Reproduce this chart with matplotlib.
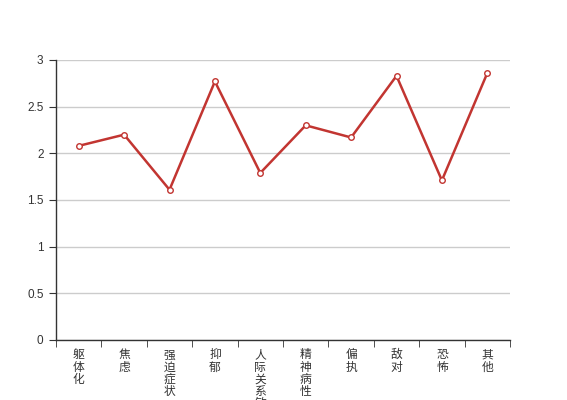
import numpy as np
import matplotlib
matplotlib.use('Agg')
import matplotlib.pyplot as plt

plt.rcParams['font.family'] = ['Noto Sans CJK SC', 'DejaVu Sans']

# 数据
categories = ['躯体化', '焦虑', '强迫症状', '抑郁', '人际关系敏感',
              '精神病性', '偏执', '敌对', '恐怖', '其他']
values = [2.08, 2.20, 1.61, 2.77, 1.79, 2.30, 2.17, 2.83, 1.71, 2.86]
y_ticks = [0, 0.5, 1, 1.5, 2, 2.5, 3]
y_tick_labels = ['0', '0.5', '1', '1.5', '2', '2.5', '3']

fig = plt.figure(figsize=(5.67, 4.0), dpi=100)
ax = fig.add_axes([56 / 567, 0.15, (510 - 56) / 567, 0.70])

x = np.arange(len(categories))
ax.plot(x, values, color='#c23531', linewidth=1.8, marker='o', markersize=4,
        markerfacecolor='white', markeredgecolor='#c23531', markeredgewidth=1,
        zorder=3)

ax.set_xlim(-0.5, len(categories) - 0.5)
ax.set_ylim(0, 3)

# y轴
ax.set_yticks(y_ticks)
ax.set_yticklabels(y_tick_labels, fontsize=8.5, color='#333333',
                   family=['Liberation Sans', 'DejaVu Sans'])
ax.yaxis.grid(True, color='#cccccc', linewidth=1)
ax.set_axisbelow(True)

# x轴：刻度在类别边界，标签竖排在中间
ax.set_xticks(x)
ax.set_xticklabels(['\n'.join(c) for c in categories], fontsize=8.5,
                   color='#333333', linespacing=0.92, va='top')
ax.tick_params(axis='x', which='major', length=0, pad=6)
ax.set_xticks(np.arange(-0.5, len(categories)), minor=True)
ax.tick_params(axis='x', which='minor', length=5, direction='out', color='#333333')
ax.tick_params(axis='y', length=5, direction='out', color='#333333', pad=4)

for s in ['top', 'right']:
    ax.spines[s].set_visible(False)
for s in ['left', 'bottom']:
    ax.spines[s].set_color('#333333')
    ax.spines[s].set_linewidth(1)

plt.savefig('out.png', dpi=100)
